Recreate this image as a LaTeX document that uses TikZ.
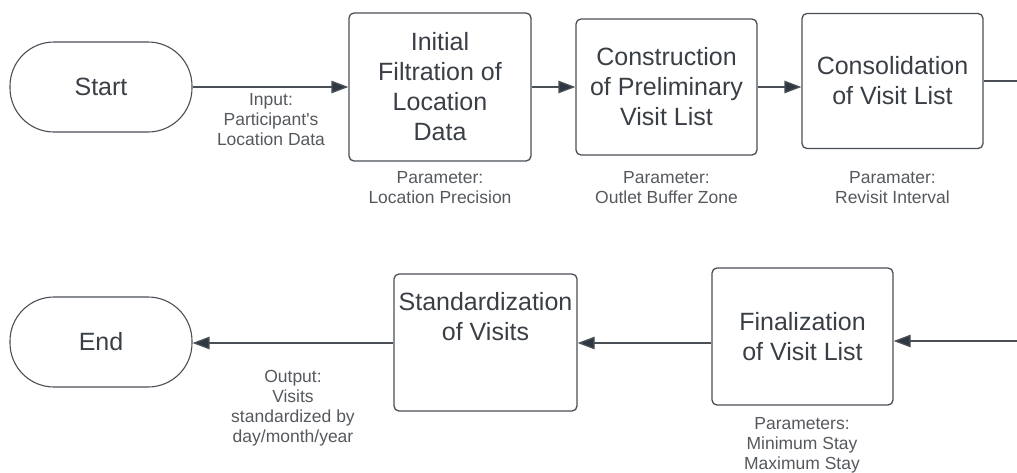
\documentclass[tikz,border=0pt]{standalone}
\usepackage{fontspec}
\setmainfont{Liberation Sans}
\usetikzlibrary{arrows.meta}
\definecolor{ink}{HTML}{3A3F45}
\definecolor{edge}{HTML}{4A4F55}
\definecolor{tip}{HTML}{2E3742}
\definecolor{note}{HTML}{55595E}
\tikzset{
  x=1pt, y=-1pt,
  stepbox/.style={draw=edge, line width=1.3pt, rounded corners=5pt, align=center,
    text=ink, font=\fontsize{25}{30}\selectfont, inner sep=0pt},
  terminal/.style={draw=edge, line width=1.1pt, rounded corners=44pt, align=center,
    text=ink, font=\fontsize{25}{30}\selectfont, minimum width=182pt, minimum height=90pt, inner sep=0pt},
  flow/.style={draw=edge, line width=1.3pt, -{Triangle[length=17pt,width=12.5pt,fill=tip]}},
  plain/.style={draw=edge, line width=1.3pt},
  note/.style={align=center, text=note, font=\fontsize{17.5}{20}\selectfont, inner sep=0pt}
}
\begin{document}
\begin{tikzpicture}
\useasboundingbox (0,0) rectangle (1017,472);

% top row
\node[terminal] (start) at (101,87) {Start};
\node[stepbox, minimum width=182pt, minimum height=148pt] (filt) at (440,87)
  {Initial\\Filtration of\\Location\\Data};
\node[stepbox, minimum width=181pt, minimum height=136pt] (cons) at (666.5,87)
  {Construction\\of Preliminary\\Visit List};
\node[stepbox, minimum width=181pt, minimum height=135pt] (cnsl) at (892.5,81)
  {Consolidation\\of Visit List};

% bottom row
\node[terminal] (end) at (101,342) {End};
\node[stepbox, minimum width=183pt, minimum height=137pt] (std) at (485.5,342.5)
  {Standardization\\of Visits\\[22pt]};
\node[stepbox, minimum width=181pt, minimum height=137pt] (fin) at (802.5,336.5)
  {Finalization\\of Visit List};

% free ends at the right margin
\coordinate (outR) at (1017,81);
\coordinate (inR) at (1017,341);

% connectors
\draw[flow] (start.east) -- (start.east -| filt.west);
\draw[flow] (filt.east |- 0,87) -- (cons.west |- 0,87);
\draw[flow] (cons.east |- 0,87) -- (cnsl.west |- 0,87);
\draw[plain] (cnsl.east) -- (outR);
\draw[flow] (inR) -- (inR -| fin.east);
\draw[flow] (fin.west |- 0,343) -- (std.east |- 0,343);
\draw[flow] (std.west |- 0,343) -- (end.east |- 0,343);

% annotations
\node[note] (inp) at (271,120) {Input:\\Participant\textquotesingle s\\Location Data};
\node[note] (p1) at (440,188) {Parameter:\\Location Precision};
\node[note] (p2) at (666.5,188) {Parameter:\\Outlet Buffer Zone};
\node[note] (p3) at (892.5,188) {Paramater:\\Revisit Interval};
\node[note] (outp) at (293,408) {Output:\\Visits\\standardized by\\day/month/year};
\node[note] (p4) at (802,445) {Parameters:\\Minimum Stay\\Maximum Stay};
\end{tikzpicture}
\end{document}
